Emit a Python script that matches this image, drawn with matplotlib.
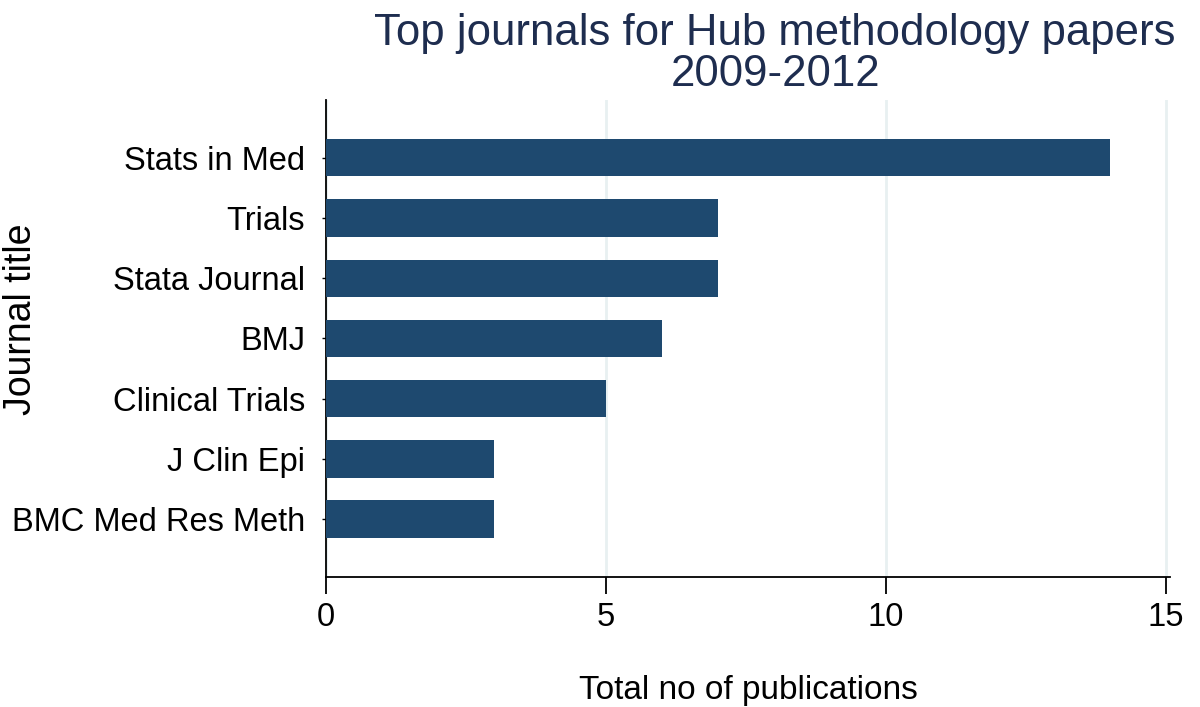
import matplotlib
matplotlib.use('Agg')
import matplotlib.pyplot as plt

journals = ['Stats in Med', 'Trials', 'Stata Journal', 'BMJ',
            'Clinical Trials', 'J Clin Epi', 'BMC Med Res Meth']
counts = [14, 7, 7, 6, 5, 3, 3]
xticks = [0, 5, 10, 15]

plt.rcParams['font.family'] = ['Liberation Sans', 'DejaVu Sans']

fig = plt.figure(figsize=(12, 7.07), dpi=100)
ax = fig.add_axes([0.2717, 0.1839, 0.7033, 0.6747])

ypos = list(range(len(journals)))
ax.barh(ypos, counts, height=0.62, color='#1e496f', zorder=3)

ax.set_ylim(len(journals) - 1 + 0.96, -0.96)
ax.set_xlim(0, 15.07)
ax.set_yticks(ypos)
ax.set_yticklabels(journals, fontsize=23.5)
ax.set_xticks(xticks)
ax.set_xticklabels([str(t) for t in xticks], fontsize=23.5)

ax.grid(axis='x', color='#e8f0f1', linewidth=2, zorder=0)
for s in ['top', 'right']:
    ax.spines[s].set_visible(False)
ax.spines['left'].set_linewidth(1.3)
ax.spines['bottom'].set_linewidth(1.3)
ax.tick_params(axis='x', length=12, width=1.3, pad=6)
ax.tick_params(axis='y', length=3, width=1, pad=12)

ax.set_xlabel('Total no of publications', fontsize=24, labelpad=30)
ax.set_ylabel('Journal title', fontsize=27, va='center')
ax.yaxis.set_label_coords(-0.361, 0.541)
fig.suptitle('Top journals for Hub methodology papers\n2009-2012',
             fontsize=31.5, color='#1e2d4f', x=0.646, y=0.982, linespacing=1.0)

fig.savefig('out.png', dpi=100)
